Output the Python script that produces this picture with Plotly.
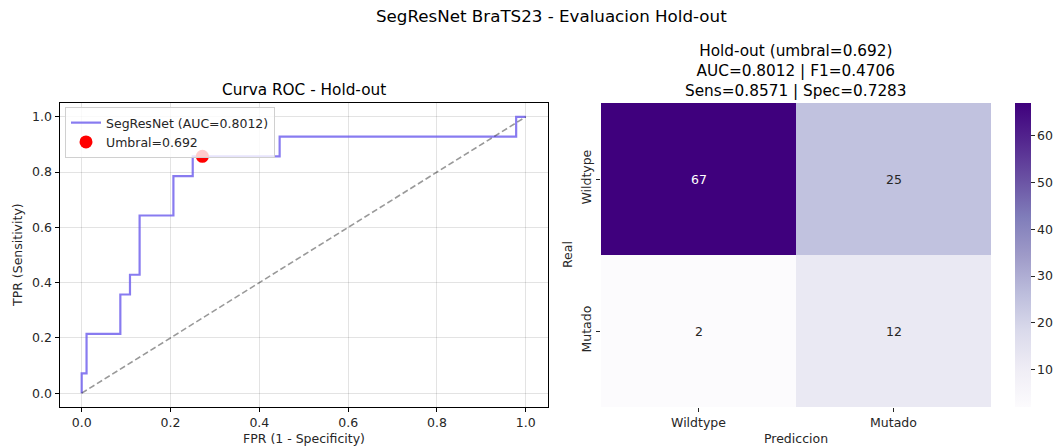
import plotly.graph_objects as go

# ---------------- data ----------------
fpr = [0.0, 0.0, 0.0109, 0.0109, 0.0870, 0.0870, 0.1087, 0.1087, 0.1304, 0.1304,
       0.2065, 0.2065, 0.2500, 0.2500, 0.4457, 0.4457, 0.9783, 0.9783, 1.0]
tpr = [0.0, 0.0714, 0.0714, 0.2143, 0.2143, 0.3571, 0.3571, 0.4286, 0.4286, 0.6429,
       0.6429, 0.7857, 0.7857, 0.8571, 0.8571, 0.9286, 0.9286, 1.0, 1.0]
thr_point = [0.2717, 0.8571]
roc_name = "SegResNet (AUC=0.8012)"
thr_name = "Umbral=0.692"

classes = ["Wildtype", "Mutado"]
cm = [[67, 25],
      [2, 12]]
cbar_ticks = [10, 20, 30, 40, 50, 60]

suptitle = "SegResNet BraTS23 - Evaluacion Hold-out"
roc_title = "Curva ROC - Hold-out"
cm_title = "Hold-out (umbral=0.692)<br>AUC=0.8012 | F1=0.4706<br>Sens=0.8571 | Spec=0.7283"

# ---------------- layout constants ----------------
W, H = 1055, 448
FONT = "DejaVu Sans"
TXT = "#262626"
FS = 12.5      # tick / label size
TS = 15.3      # axes title size

def px_x(p):
    return p / W

def px_y(p):
    return 1 - p / H

fig = go.Figure()

# ROC curve
fig.add_trace(go.Scatter(
    x=fpr, y=tpr, mode="lines", name=roc_name,
    line=dict(color="rgba(106,90,236,0.8)", width=2.2),
    xaxis="x", yaxis="y"))
# diagonal
fig.add_trace(go.Scatter(
    x=[0, 1], y=[0, 1], mode="lines", showlegend=False,
    line=dict(color="rgba(0,0,0,0.4)", width=1.6, dash="6px,3px"),
    xaxis="x", yaxis="y"))
# threshold point
fig.add_trace(go.Scatter(
    x=[thr_point[0]], y=[thr_point[1]], mode="markers", name=thr_name,
    marker=dict(color="red", size=13, line=dict(width=0)),
    xaxis="x", yaxis="y"))

# confusion matrix heatmap
zmin = min(min(r) for r in cm)
zmax = max(max(r) for r in cm)
fig.add_trace(go.Heatmap(
    z=cm, x=classes, y=classes, colorscale="Purples", zmin=zmin, zmax=zmax,
    xaxis="x2", yaxis="y2", showscale=True, xgap=0, ygap=0,
    hoverinfo="skip",
    colorbar=dict(
        x=px_x(1015), xanchor="left", xpad=0,
        y=px_y(407), yanchor="bottom", ypad=0,
        len=304, lenmode="pixels", thickness=16, thicknessmode="pixels",
        outlinewidth=0, tickvals=cbar_ticks, ticks="outside", ticklen=4,
        tickcolor=TXT, tickfont=dict(family=FONT, size=FS, color=TXT))))

annotations = []
mid = (zmin + zmax) / 2
for i, row in enumerate(cm):
    for j, v in enumerate(row):
        annotations.append(dict(
            x=classes[j], y=classes[i], xref="x2", yref="y2", text=str(v),
            showarrow=False,
            font=dict(family=FONT, size=FS, color="white" if v > mid else TXT)))

# titles
annotations.append(dict(text=suptitle, x=px_x(551), y=px_y(16), xref="paper", yref="paper",
                        showarrow=False, font=dict(family=FONT, size=16.7, color="black"),
                        xanchor="center", yanchor="middle"))
annotations.append(dict(text=roc_title, x=px_x(304), y=px_y(90), xref="paper", yref="paper",
                        showarrow=False, font=dict(family=FONT, size=TS, color="black"),
                        xanchor="center", yanchor="middle"))
annotations.append(dict(text=cm_title, x=px_x(796), y=px_y(71), xref="paper", yref="paper",
                        showarrow=False, font=dict(family=FONT, size=TS, color="black"),
                        xanchor="center", yanchor="middle", align="center"))
# axis titles
annotations.append(dict(text="FPR (1 - Specificity)", x=px_x(304), y=px_y(438), xref="paper",
                        yref="paper", showarrow=False,
                        font=dict(family=FONT, size=FS, color=TXT), xanchor="center", yanchor="middle"))
annotations.append(dict(text="TPR (Sensitivity)", x=px_x(17), y=px_y(255), xref="paper",
                        yref="paper", showarrow=False, textangle=-90,
                        font=dict(family=FONT, size=FS, color=TXT), xanchor="center", yanchor="middle"))
annotations.append(dict(text="Prediccion", x=px_x(796), y=px_y(438), xref="paper",
                        yref="paper", showarrow=False,
                        font=dict(family=FONT, size=FS, color=TXT), xanchor="center", yanchor="middle"))
annotations.append(dict(text="Real", x=px_x(567), y=px_y(255), xref="paper",
                        yref="paper", showarrow=False, textangle=-90,
                        font=dict(family=FONT, size=FS, color=TXT), xanchor="center", yanchor="middle"))

tickfont = dict(family=FONT, size=FS, color=TXT)

fig.update_layout(
    width=W, height=H, margin=dict(l=0, r=0, t=0, b=0),
    paper_bgcolor="white", plot_bgcolor="white",
    font=dict(family=FONT, size=FS, color=TXT),
    showlegend=True,
    legend=dict(x=px_x(65), y=px_y(107), xanchor="left", yanchor="top",
                bgcolor="rgba(255,255,255,0.8)", bordercolor="#d0d0d0", borderwidth=1,
                font=dict(family=FONT, size=FS, color=TXT),
                itemwidth=30, tracegroupgap=0),
    xaxis=dict(domain=[px_x(59.5), px_x(548)], range=[-0.05, 1.05],
               tickvals=[0, 0.2, 0.4, 0.6, 0.8, 1.0], ticktext=["0.0", "0.2", "0.4", "0.6", "0.8", "1.0"],
               showgrid=True, gridcolor="rgba(0,0,0,0.11)", gridwidth=0.8,
               zeroline=False, showline=True, linecolor="black", linewidth=1, mirror=True,
               ticks="outside", ticklen=4, tickcolor="black", tickfont=tickfont, anchor="y"),
    yaxis=dict(domain=[px_y(407), px_y(103)], range=[-0.05, 1.05],
               tickvals=[0, 0.2, 0.4, 0.6, 0.8, 1.0], ticktext=["0.0", "0.2", "0.4", "0.6", "0.8", "1.0"],
               showgrid=True, gridcolor="rgba(0,0,0,0.11)", gridwidth=0.8,
               zeroline=False, showline=True, linecolor="black", linewidth=1, mirror=True,
               ticks="outside", ticklen=4, tickcolor="black", tickfont=tickfont, anchor="x"),
    xaxis2=dict(domain=[px_x(601), px_x(991)], anchor="y2", showgrid=False, zeroline=False,
                showline=False, ticks="outside", ticklen=4, tickcolor=TXT, tickfont=tickfont,
                type="category", categoryorder="array", categoryarray=classes),
    yaxis2=dict(domain=[px_y(407), px_y(103)], anchor="x2", showgrid=False, zeroline=False,
                showline=False, ticks="outside", ticklen=4, tickcolor=TXT, tickfont=tickfont,
                type="category", categoryorder="array", categoryarray=classes,
                autorange="reversed", tickangle=-90),
    annotations=annotations,
)

fig.write_html("out.html")
